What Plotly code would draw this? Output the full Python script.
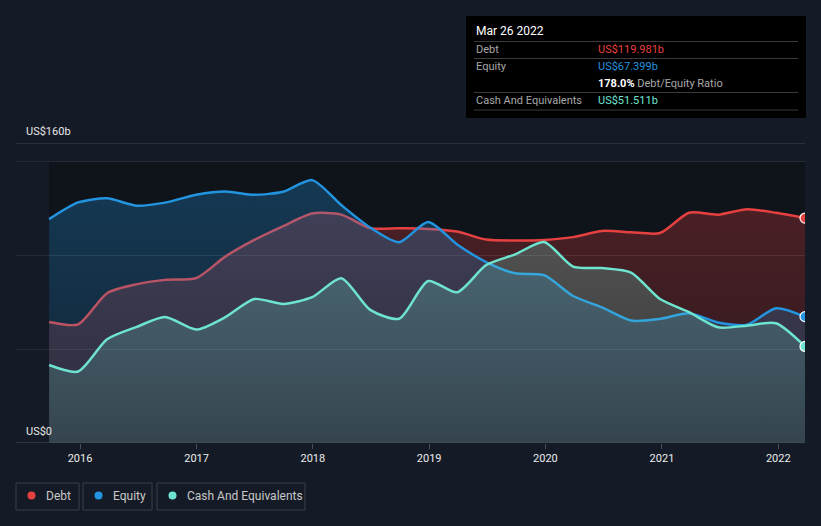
import plotly.graph_objects as go

# quarterly balance sheet points (US$ b)
dates = ["2015-09-26", "2015-12-26", "2016-03-26", "2016-06-25", "2016-09-24",
         "2016-12-31", "2017-04-01", "2017-07-01", "2017-09-30", "2017-12-30",
         "2018-03-31", "2018-06-30", "2018-09-29", "2018-12-29", "2019-03-30",
         "2019-06-29", "2019-09-28", "2019-12-28", "2020-03-28", "2020-06-27",
         "2020-09-26", "2020-12-26", "2021-03-27", "2021-06-26", "2021-09-25",
         "2021-12-25", "2022-03-26"]
debt = [64.5, 63.3, 79.9, 84.6, 87.0, 88.0, 99.4, 108.3, 115.7, 122.4,
        121.8, 114.6, 114.5, 114.2, 112.8, 108.5, 108.0, 108.3, 109.8, 113.1,
        112.4, 112.0, 122.8, 121.8, 124.7, 122.8, 119.981]
equity = [119.4, 128.3, 130.5, 126.6, 128.2, 132.4, 134.1, 132.4, 134.0, 140.2,
          126.9, 114.9, 107.1, 117.9, 105.9, 96.5, 90.5, 89.5, 78.4, 72.3,
          65.3, 66.2, 69.2, 64.3, 63.1, 71.9, 67.399]
cash = [41.6, 38.1, 55.3, 61.8, 67.2, 60.5, 67.1, 76.8, 74.2, 77.8,
        87.9, 71.0, 66.3, 86.4, 80.4, 94.9, 100.6, 107.2, 94.1, 93.3,
        90.9, 76.8, 69.8, 61.7, 62.6, 63.9, 51.511]

series = [
    ("Debt", debt, "#e64141", (230, 65, 65)),
    ("Equity", equity, "#2394df", (35, 148, 223)),
    ("Cash And Equivalents", cash, "#6ee3cf", (110, 227, 207)),
]

BG = "#151b26"
W, H = 821, 526
L, R, T, B = 16, 16, 143, 83


def px(x):
    return (x - L) / (W - L - R)


def py(y):
    return (H - B - y) / (H - T - B)


fig = go.Figure()

for name, vals, col, rgb in series:
    r, g, b = rgb
    fig.add_trace(go.Scatter(
        x=dates, y=vals, name=name, mode="lines",
        line=dict(color=col, width=2.5, shape="spline", smoothing=0.7),
        fill="tozeroy",
        fillgradient=dict(type="vertical", start=0, stop=150,
                          colorscale=[[0, f"rgba({r},{g},{b},0.14)"],
                                      [1, f"rgba({r},{g},{b},0.30)"]]),
        hoverinfo="skip", showlegend=False))

# end markers (clipped by the plot edge like the original)
for name, vals, col, rgb in series:
    fig.add_trace(go.Scatter(
        x=[dates[-1]], y=[vals[-1]], mode="markers",
        marker=dict(color=col, size=10, line=dict(color="white", width=1.2)),
        hoverinfo="skip", showlegend=False))

shapes = [
    # darker panel behind the data range
    dict(type="rect", xref="x", yref="y", x0=dates[0], x1=dates[-1], y0=0, y1=150,
         fillcolor="#0f131a", line_width=0, layer="below"),
    dict(type="line", xref="paper", yref="y", x0=0, x1=1, y0=160, y1=160,
         line=dict(color="#41464f", width=1)),
    dict(type="line", xref="paper", yref="y", x0=0, x1=1, y0=0, y1=0,
         line=dict(color="#4a5059", width=1.2)),
    # tooltip box
    dict(type="rect", xref="paper", yref="paper", x0=px(466), x1=px(806),
         y0=py(118), y1=py(16), fillcolor="#000000", line_width=0),
]
for yy in [41.5, 58.5, 92.5, 110]:
    shapes.append(dict(type="line", xref="paper", yref="paper", x0=px(474), x1=px(798),
                       y0=py(yy), y1=py(yy), line=dict(color="#3a3a3a", width=1)))

annotations = [
    dict(text="US$160b", xref="paper", yref="y", x=px(24), y=160, xanchor="left",
         yanchor="bottom", yshift=3, showarrow=False,
         font=dict(color="#e6e6e6", size=11)),
    dict(text="US$0", xref="paper", yref="y", x=px(24), y=0, xanchor="left",
         yanchor="bottom", yshift=3, showarrow=False,
         font=dict(color="#e6e6e6", size=11)),
]


def tip(text, x, y, color, size=11):
    annotations.append(dict(text=text, xref="paper", yref="paper", x=px(x), y=py(y),
                            xanchor="left", yanchor="middle", showarrow=False,
                            font=dict(color=color, size=size)))


ratio = debt[-1] / equity[-1] * 100
tip("Mar 26 2022", 474, 30.5, "#ffffff", 12)
tip("Debt", 474, 49.5, "#a8a8a8")
tip(f"US${debt[-1]:.3f}b", 596, 49.5, "#e64141")
tip("Equity", 474, 66, "#a8a8a8")
tip(f"US${equity[-1]:.3f}b", 596, 66, "#2394df")
tip(f"<b style='color:#ffffff'>{ratio:.1f}%</b> Debt/Equity Ratio", 596, 83, "#a8a8a8")
tip("Cash And Equivalents", 474, 100, "#a8a8a8")
tip(f"US${cash[-1]:.3f}b", 596, 100, "#6ee3cf")

# custom legend boxes
legend_items = [("Debt", "#e64141", 16, 79), ("Equity", "#2394df", 83, 152),
                ("Cash And Equivalents", "#6ee3cf", 157, 305)]
for label, col, x0, x1 in legend_items:
    shapes.append(dict(type="rect", xref="paper", yref="paper", x0=px(x0), x1=px(x1),
                       y0=py(510), y1=py(483), line=dict(color="#3a404a", width=1),
                       fillcolor="rgba(0,0,0,0)"))
    cx = x0 + 15.5
    shapes.append(dict(type="circle", xref="paper", yref="paper",
                       x0=px(cx - 4), x1=px(cx + 4), y0=py(499.5), y1=py(491.5),
                       fillcolor=col, line_width=0))
    tip(label, x0 + 28, 495.5, "#c8c8c8", 12)

fig.update_layout(
    width=W, height=H,
    margin=dict(l=L, r=R, t=T, b=B),
    paper_bgcolor=BG, plot_bgcolor=BG,
    font=dict(family="Roboto, sans-serif", color="#e6e6e6", size=11),
    showlegend=False,
    shapes=shapes, annotations=annotations,
    xaxis=dict(type="date", range=["2015-06-14", "2022-03-26"],
               showgrid=False, zeroline=False, showline=False,
               tickvals=[f"{y}-01-01" for y in range(2016, 2023)],
               ticktext=[str(y) for y in range(2016, 2023)],
               ticks="outside", ticklen=5, tickcolor="#4a5059", tickwidth=1,
               tickfont=dict(color="#ececec", size=11), fixedrange=True),
    yaxis=dict(range=[0, 160], tickvals=[50, 100, 150], showticklabels=False,
               gridcolor="#252b35", gridwidth=1, zeroline=False, fixedrange=True),
)

fig.write_html("out.html", config={"displayModeBar": False},
               post_script="document.body.style.margin='0px';document.body.style.background='#151b26';")
